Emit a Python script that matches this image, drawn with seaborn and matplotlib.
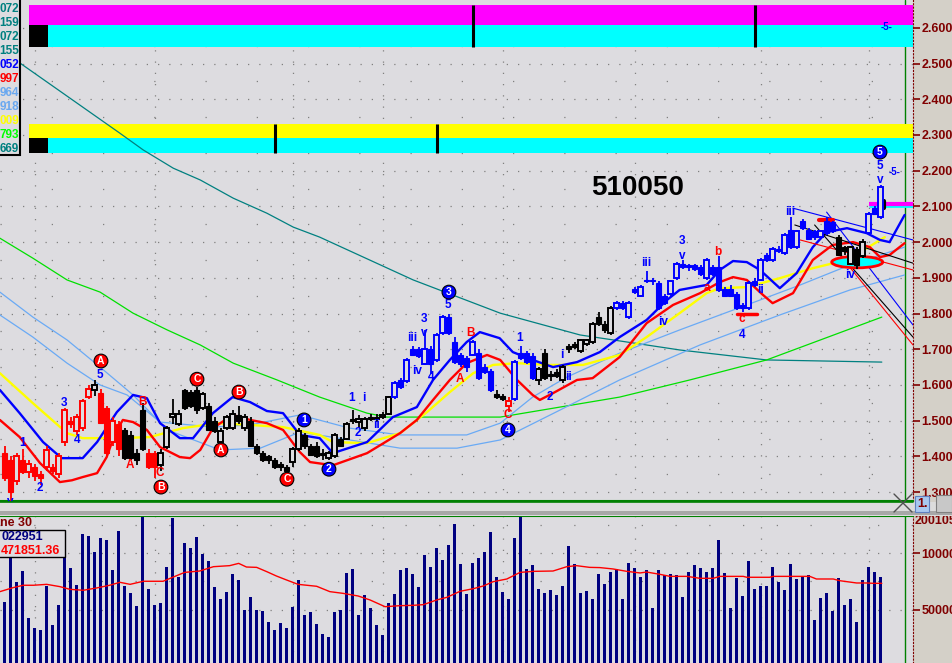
import numpy as np
import matplotlib
matplotlib.use('Agg')
import matplotlib.pyplot as plt
from matplotlib.patches import Rectangle, Ellipse
from matplotlib.lines import Line2D
import seaborn as sns

sns.set_style('white')
plt.rcParams['font.family'] = ['Liberation Sans', 'DejaVu Sans']
plt.rcParams['font.weight'] = 'bold'

# ── price bars (one per day) ─────────────────────────────────────
opens = [1.41, 1.39, 1.33, 1.39, 1.355, 1.37, 1.35, 1.37, 1.37, 1.35,
         1.44, 1.50, 1.47, 1.48, 1.567, 1.585, 1.578, 1.535, 1.44, 1.49,
         1.475, 1.46, 1.41, 1.53, 1.41, 1.41, 1.376, 1.425, 1.51, 1.49,
         1.585, 1.58, 1.585, 1.535, 1.54, 1.50, 1.44, 1.48, 1.48, 1.515,
         1.48, 1.50, 1.43, 1.41, 1.40, 1.39, 1.38, 1.37, 1.385, 1.42,
         1.46, 1.43, 1.43, 1.41, 1.395, 1.40, 1.45, 1.45, 1.505, 1.495,
         1.48, 1.51, 1.51, 1.51, 1.52, 1.565, 1.615, 1.61, 1.70, 1.70,
         1.66, 1.70, 1.67, 1.745, 1.79, 1.72, 1.685, 1.675, 1.685, 1.69,
         1.65, 1.64, 1.575, 1.57, 1.54, 1.56, 1.69, 1.69, 1.68, 1.615,
         1.69, 1.63, 1.635, 1.615, 1.71, 1.715, 1.695, 1.715, 1.72, 1.79,
         1.77, 1.745, 1.815, 1.83, 1.79, 1.87, 1.85, 1.895, 1.895, 1.885,
         1.85, 1.855, 1.90, 1.94, 1.935, 1.935, 1.93, 1.90, 1.93, 1.93,
         1.87, 1.87, 1.855, 1.825, 1.815, 1.89, 1.895, 1.965, 1.95, 1.98,
         1.97, 2.035, 1.985, 2.06, 2.035, 2.03, 2.015, 2.06, 2.055, 2.015,
         1.985, 1.94, 1.98, 1.96, 2.025, 2.095, 2.07]
highs = [1.43, 1.40, 1.41, 1.42, 1.39, 1.38, 1.36, 1.43, 1.38, 1.41,
         1.535, 1.51, 1.52, 1.56, 1.60, 1.615, 1.59, 1.54, 1.51, 1.50,
         1.48, 1.47, 1.42, 1.55, 1.42, 1.415, 1.42, 1.485, 1.56, 1.53,
         1.59, 1.585, 1.595, 1.58, 1.55, 1.51, 1.48, 1.515, 1.53, 1.54,
         1.52, 1.51, 1.435, 1.415, 1.405, 1.395, 1.385, 1.375, 1.425, 1.48,
         1.465, 1.435, 1.44, 1.42, 1.415, 1.465, 1.455, 1.495, 1.53, 1.515,
         1.51, 1.52, 1.52, 1.525, 1.57, 1.61, 1.62, 1.675, 1.71, 1.705,
         1.755, 1.71, 1.745, 1.795, 1.80, 1.735, 1.69, 1.68, 1.725, 1.70,
         1.66, 1.645, 1.585, 1.575, 1.565, 1.67, 1.71, 1.695, 1.69, 1.65,
         1.70, 1.64, 1.645, 1.655, 1.715, 1.72, 1.73, 1.73, 1.775, 1.805,
         1.78, 1.82, 1.835, 1.835, 1.835, 1.875, 1.88, 1.92, 1.90, 1.89,
         1.855, 1.895, 1.945, 1.95, 1.94, 1.94, 1.935, 1.955, 1.935, 1.96,
         1.875, 1.88, 1.86, 1.83, 1.89, 1.90, 1.955, 1.97, 1.985, 1.99,
         2.025, 2.07, 2.035, 2.065, 2.04, 2.035, 2.035, 2.07, 2.06, 2.02,
         1.99, 1.99, 1.985, 2.01, 2.085, 2.10, 2.16]
lows = [1.33, 1.27, 1.32, 1.35, 1.34, 1.33, 1.32, 1.36, 1.35, 1.34,
        1.43, 1.48, 1.46, 1.47, 1.56, 1.57, 1.49, 1.40, 1.43, 1.40,
        1.39, 1.39, 1.375, 1.415, 1.365, 1.34, 1.36, 1.42, 1.49, 1.485,
        1.53, 1.535, 1.52, 1.53, 1.47, 1.465, 1.425, 1.475, 1.475, 1.49,
        1.47, 1.425, 1.405, 1.385, 1.38, 1.365, 1.36, 1.355, 1.37, 1.415,
        1.42, 1.40, 1.395, 1.39, 1.39, 1.395, 1.425, 1.445, 1.49, 1.48,
        1.47, 1.50, 1.495, 1.505, 1.515, 1.56, 1.59, 1.605, 1.68, 1.675,
        1.655, 1.63, 1.665, 1.74, 1.74, 1.66, 1.65, 1.635, 1.68, 1.615,
        1.63, 1.58, 1.56, 1.555, 1.525, 1.555, 1.67, 1.66, 1.615, 1.60,
        1.615, 1.61, 1.62, 1.605, 1.69, 1.70, 1.69, 1.71, 1.715, 1.765,
        1.745, 1.74, 1.81, 1.81, 1.785, 1.855, 1.845, 1.885, 1.88, 1.81,
        1.825, 1.85, 1.895, 1.925, 1.92, 1.92, 1.905, 1.895, 1.905, 1.86,
        1.845, 1.845, 1.81, 1.805, 1.81, 1.875, 1.89, 1.945, 1.945, 1.97,
        1.965, 1.98, 1.98, 2.035, 2.005, 2.005, 2.01, 2.02, 2.025, 1.96,
        1.965, 1.935, 1.925, 1.955, 2.02, 2.075, 2.065]
closes = [1.34, 1.30, 1.40, 1.355, 1.38, 1.345, 1.34, 1.418, 1.36, 1.40,
          1.53, 1.49, 1.51, 1.555, 1.59, 1.60, 1.494, 1.41, 1.50, 1.42,
          1.395, 1.395, 1.39, 1.42, 1.37, 1.37, 1.41, 1.48, 1.52, 1.52,
          1.535, 1.54, 1.53, 1.575, 1.475, 1.47, 1.47, 1.51, 1.52, 1.50,
          1.51, 1.43, 1.41, 1.39, 1.39, 1.37, 1.37, 1.36, 1.42, 1.47,
          1.43, 1.405, 1.40, 1.405, 1.41, 1.46, 1.43, 1.49, 1.50, 1.505,
          1.505, 1.505, 1.505, 1.515, 1.565, 1.605, 1.595, 1.67, 1.685, 1.68,
          1.70, 1.66, 1.74, 1.79, 1.745, 1.665, 1.66, 1.65, 1.72, 1.62,
          1.635, 1.585, 1.565, 1.56, 1.555, 1.665, 1.675, 1.665, 1.62, 1.645,
          1.62, 1.625, 1.625, 1.65, 1.70, 1.705, 1.725, 1.725, 1.77, 1.77,
          1.755, 1.815, 1.83, 1.815, 1.83, 1.86, 1.875, 1.89, 1.89, 1.815,
          1.83, 1.89, 1.94, 1.93, 1.93, 1.925, 1.91, 1.95, 1.91, 1.865,
          1.85, 1.85, 1.815, 1.815, 1.885, 1.88, 1.95, 1.95, 1.98, 1.975,
          2.02, 1.985, 2.03, 2.04, 2.01, 2.015, 2.03, 2.025, 2.03, 1.965,
          1.975, 1.985, 1.935, 2.00, 2.08, 2.08, 2.155]
# trend colour of each bar: r = red, k = black, b = blue
bar_trend = ('r' * 15 + 'k' + 'r' * 4 + 'k' * 4 + 'r' * 2 + 'k' * 39 + 'b' * 17
             + 'k' * 2 + 'r' + 'b' * 4 + 'k' * 13 + 'b' * 37 + 'k' * 5 + 'b' * 3)

volume = [573, 1050, 748, 842, 433, 345, 325, 711, 368, 544,
          1020, 871, 719, 1167, 1149, 1009, 1132, 1114, 851, 1193,
          711, 652, 535, 1319, 684, 544, 561, 877, 1307, 789,
          1088, 1044, 1140, 991, 930, 702, 596, 661, 816, 763,
          500, 614, 500, 491, 395, 325, 386, 345, 526, 763,
          456, 482, 377, 289, 263, 482, 500, 825, 860, 456,
          632, 518, 368, 281, 561, 640, 851, 869, 816, 702,
          982, 877, 1044, 939, 1070, 1254, 904, 640, 912, 956,
          1009, 1184, 789, 658, 596, 1132, 1330, 860, 895, 684,
          649, 675, 632, 711, 1061, 904, 649, 667, 596, 816,
          728, 833, 860, 596, 912, 869, 789, 851, 518, 851,
          807, 816, 807, 614, 833, 895, 869, 833, 869, 1114,
          825, 518, 781, 623, 930, 684, 711, 711, 877, 746,
          675, 904, 772, 789, 807, 412, 605, 649, 491, 781,
          544, 596, 395, 763, 877, 833, 789]   # thousands
vol_ma_x = [-0.8, 1.4, 3.1, 4.8, 7, 9.2, 10.9, 13.1, 15.3, 17.5, 19.2, 20.9, 23.1,
            26.4, 28.1, 30, 32.5, 34.8, 37.5, 39, 40.3, 42, 43.7, 45.3, 47, 48.9,
            52, 54.2, 56.4, 58.9, 60.9, 63.4, 65.9, 68.1, 69.8, 72, 73.7, 75.9,
            78.1, 79.8, 81.4, 83.7, 85.9, 88.1, 91.4, 93.7, 95.3, 97.5, 99.2,
            101.4, 103.7, 105.9, 107, 109.2, 110.9, 113.7, 115.9, 118.1, 119.2,
            123.1, 123.7, 127.5, 128.1, 134.2, 135.3, 138.1, 139.2, 142, 143.7,
            144.8, 146.2]
vol_ma = [661, 696, 717, 717, 725, 705, 681, 673, 693, 717, 743, 725, 752,
          752, 789, 830, 842, 880, 889, 909, 877, 874, 836, 798, 763, 725,
          708, 661, 646, 623, 588, 529, 538, 541, 547, 588, 611, 664,
          687, 711, 748, 772, 830, 839, 842, 880, 889, 874, 872,
          860, 839, 825, 833, 813, 795, 795, 778, 778, 795,
          795, 787, 787, 795, 795, 772, 772, 757, 737, 737,
          734, 734]

# ── indicator lines (bar index, price) ───────────────────────────
blue_x = [-0.8, 2.5, 6.4, 9.5, 13, 15.4, 18.7, 21.4, 23.7, 25.9, 29.2, 31.4, 34.7,
          38, 40.9, 43.7, 46.4, 49.2, 52.5, 54.7, 60.4, 64.7, 68.7, 71.4, 74.2, 77,
          79.2, 82.5, 84.7, 88, 91.4, 95.4, 99.2, 102.5, 107, 110.4, 112.5, 117,
          119.2, 121.4, 123.7, 125.9, 129.2, 132, 134.7, 137, 140.4, 143.7, 145.9,
          147.5, 150]
blue_y = [1.586, 1.521, 1.440, 1.395, 1.395, 1.440, 1.524, 1.572, 1.563, 1.493,
          1.451, 1.451, 1.521, 1.566, 1.552, 1.527, 1.521, 1.460, 1.451, 1.409,
          1.440, 1.510, 1.538, 1.614, 1.670, 1.720, 1.748, 1.731, 1.692, 1.670,
          1.650, 1.664, 1.692, 1.734, 1.782, 1.838, 1.866, 1.880, 1.922, 1.947,
          1.944, 1.922, 1.871, 1.913, 1.986, 2.028, 2.039, 2.025, 2.006, 2.000,
          2.076]
red_x = [-0.8, 2.5, 5.9, 9.2, 11.2, 13, 15.4, 17, 18.4, 19.7, 21.4, 23.7, 25.9,
         29.2, 30.9, 32.6, 34.7, 38, 40.9, 43.7, 46.4, 49.2, 50.9, 54.7, 60.4,
         65.9, 68.7, 71.4, 74.2, 77, 80.4, 82.6, 85.4, 88, 89.2, 91.4, 95.4, 98,
         102.5, 107, 111.4, 115.9, 119.2, 121.4, 123.7, 126.4, 128, 131.4, 134.7,
         138, 141.4, 144.2, 145.9, 147.5, 150]
red_y = [1.502, 1.454, 1.381, 1.328, 1.333, 1.342, 1.353, 1.398, 1.465, 1.502,
         1.496, 1.474, 1.426, 1.398, 1.395, 1.418, 1.479, 1.516, 1.502, 1.493,
         1.474, 1.412, 1.384, 1.375, 1.409, 1.465, 1.502, 1.558, 1.614, 1.661,
         1.684, 1.670, 1.614, 1.572, 1.558, 1.577, 1.614, 1.619, 1.678, 1.773,
         1.824, 1.857, 1.888, 1.902, 1.894, 1.852, 1.829, 1.857, 1.950, 1.992,
         2.000, 1.986, 1.958, 1.964, 1.997]
yellow_x = [-0.8, 4.7, 10.4, 13, 18.7, 24.2, 29.7, 35.4, 40.9, 46.4, 52.5, 54.7,
            60.4, 65.9, 70.4, 74.2, 78.1, 81.4, 85.4, 90.9, 96.4, 102.5, 107,
            112.5, 117, 119.2, 123.7, 129.2, 134.7, 140.4, 143.7, 146.7]
yellow_y = [1.633, 1.549, 1.465, 1.451, 1.451, 1.454, 1.479, 1.493, 1.488, 1.482,
            1.460, 1.440, 1.437, 1.465, 1.524, 1.580, 1.633, 1.656, 1.661, 1.656,
            1.656, 1.684, 1.734, 1.801, 1.857, 1.871, 1.874, 1.899, 1.927, 1.950,
            1.983, 2.014]
teal_x = [-0.8, 2.5, 9.2, 19.2, 23.1, 28.1, 32.6, 38.1, 43.7, 48.1, 52.5, 68.1,
          82.6, 95.9, 112.5, 127.0, 146.2]
teal_y = [2.541, 2.502, 2.423, 2.305, 2.258, 2.207, 2.174, 2.123, 2.081, 2.042,
          2.014, 1.894, 1.801, 1.740, 1.698, 1.670, 1.664]
green_x = [-0.8, 4.7, 10.4, 15.9, 21.4, 27.1, 32.6, 38.1, 45.4, 52.5, 60.4, 63.7,
           82.6, 102.5, 114.2, 127, 146.2]
green_y = [2.011, 1.955, 1.894, 1.860, 1.801, 1.754, 1.712, 1.661, 1.614, 1.566,
           1.521, 1.510, 1.510, 1.566, 1.614, 1.670, 1.790]
ltblue_fast_x = [-0.8, 4.7, 10.4, 15.9, 20.4, 25.9, 34.7, 40.9, 49.2, 57.5, 65.9,
                 77, 82.6, 88, 93.7, 102.5, 112.5, 123.7, 132.6, 140.9, 150]
ltblue_fast_y = [1.796, 1.734, 1.661, 1.600, 1.572, 1.496, 1.482, 1.488, 1.516,
                 1.479, 1.460, 1.460, 1.493, 1.566, 1.622, 1.689, 1.754, 1.824,
                 1.880, 1.936, 1.986]
ltblue_slow_x = [-0.8, 4.7, 10.4, 15.9, 21.4, 27.1, 35.9, 42.6, 49.2, 57.5, 65.9,
                 75.4, 82.6, 92.6, 102.5, 115.9, 129.2, 140.9, 150]
ltblue_slow_y = [1.860, 1.790, 1.726, 1.650, 1.572, 1.474, 1.418, 1.423, 1.468,
                 1.446, 1.423, 1.423, 1.446, 1.530, 1.614, 1.712, 1.796, 1.866, 1.908]
# channel lines at the right: (x0, x1, y0, y1, colour)
channels = [(131.4, 151.4, 2.095, 2.006, '#0000ff'),
            (131.7, 151.4, 2.048, 1.941, '#000000'),
            (132.6, 151.4, 2.006, 1.922, '#ff0000'),
            (137.0, 151.4, 2.084, 1.768, '#0000ff'),
            (135.0, 151.4, 2.048, 1.734, '#000000'),
            (139.2, 151.4, 1.964, 1.712, '#ff0000')]

# ── wave labels (text, bar index, price) ─────────────────────────
blue_labels = [('1', 2.9, 1.437), ('2', 5.9, 1.311), ('3', 9.9, 1.549), ('4', 12.05, 1.446),
               ('5', 15.9, 1.628), ('v', 0.9, 1.272), ('1', 57.9, 1.563), ('i', 59.9, 1.563),
               ('2', 58.9, 1.465), ('ii', 62.05, 1.488), ('iii', 67.9, 1.731), ('3', 69.9, 1.786),
               ('v', 69.9, 1.746), ('iv', 68.7, 1.639), ('4', 71.05, 1.622), ('5', 73.9, 1.824),
               ('1', 85.9, 1.731), ('i', 92.9, 1.684), ('ii', 93.9, 1.622), ('2', 90.9, 1.566),
               ('iii', 106.9, 1.941), ('iv', 109.7, 1.776), ('3', 112.9, 2.004), ('v', 112.9, 1.962),
               ('4', 122.9, 1.740), ('i', 125.4, 1.927), ('ii', 125.9, 1.866), ('iii', 130.9, 2.084),
               ('iv', 140.9, 1.908), ('5', 145.9, 2.214), ('v', 145.9, 2.174)]
red_labels = [('A', 20.9, 1.376), ('B', 23.05, 1.552), ('C', 25.9, 1.353),
              ('A', 75.9, 1.616), ('B', 77.7, 1.745), ('C', 83.9, 1.516),
              ('a', 117.05, 1.871), ('b', 118.9, 1.972), ('c', 122.9, 1.784)]
red_circles = [('A', 16.05, 1.667), ('C', 32.05, 1.616), ('B', 39.05, 1.580),
               ('A', 36.05, 1.418), ('B', 26.05, 1.314), ('C', 47.05, 1.336)]
blue_circles = [('1', 49.9, 1.502), ('2', 54.05, 1.364), ('3', 74.05, 1.860),
                ('4', 83.9, 1.474), ('5', 145.9, 2.252)]

# signal bands at top (price ranges) and their event bars
band1_pink = (2.608, 2.664)
band1_cyan = (2.547, 2.608)
band1_events = [78, 125]
band2_yellow = (2.291, 2.331)
band2_cyan = (2.249, 2.291)
band2_events = [45, 72]

side_values = ['072', '159', '072', '155', '052', '997', '964', '918', '009', '793', '669']
side_colors = ['#008080', '#008080', '#008080', '#008080', '#0000ff', '#ff0000',
               '#6aa8f0', '#6aa8f0', '#ffff00', '#00ff00', '#008080']

BG = '#dddce0'
AXC = '#800000'
COL = {'r': '#ff0000', 'k': '#000000', 'b': '#0000ff'}
XL = (-0.78, 151.4)

W, H = 952, 663
fig = plt.figure(figsize=(W / 100, H / 100), dpi=100, facecolor='#d4d0c8')
ax = fig.add_axes([0, (H - 501) / H, 913 / W, 501 / H], facecolor=BG)
axv = fig.add_axes([0, 0, 913 / W, (H - 516) / H], facecolor=BG)

# ── main panel ───────────────────────────────────────────────────
ax.set_xlim(*XL)
ax.set_ylim(1.275, 2.678)
yt = np.round(np.arange(1.3, 2.61, 0.1), 1)
for p in yt:
    ax.axhline(p, color='#808080', lw=0.9, ls=(0, (1, 8)), zorder=0.3)
    ax.axhline(p + 0.05, color='#808080', lw=0.9, ls=(0, (1, 40)), zorder=0.3)
vgrid = [5, 25, 48, 63, 83, 105, 126, 144]
for g in vgrid:
    ax.axvline(g, color='#808080', lw=0.9, ls=(0, (1, 8)), zorder=0.3)
    axv.axvline(g, color='#808080', lw=0.9, ls=(0, (1, 8)), zorder=0.3)
ax.axvline(150, color='#008000', lw=1, zorder=0.4)
axv.axvline(150, color='#008000', lw=1, zorder=0.4)

# top signal bands
ax.fill_between([4.05, XL[1]], *band1_pink, color='#ff00ff', lw=0, zorder=1)
ax.fill_between([4.05, XL[1]], *band1_cyan, color='#00ffff', lw=0, zorder=1)
ax.fill_between([4.05, 7.2], *band1_cyan, color='black', lw=0, zorder=1.1)
ax.fill_between([4.05, XL[1]], *band2_yellow, color='#ffff00', lw=0, zorder=1)
ax.fill_between([4.05, XL[1]], *band2_cyan, color='#00ffff', lw=0, zorder=1)
ax.fill_between([4.05, 7.2], *band2_cyan, color='black', lw=0, zorder=1.1)
ax.vlines(band1_events, band1_cyan[0], band1_pink[1], color='black', lw=2.2, zorder=1.2)
ax.vlines(band2_events, band2_cyan[0], band2_yellow[1], color='black', lw=2.2, zorder=1.2)
ax.text(147.05, 2.602, '-5-', color='#0000ff', fontsize=7, ha='center', va='center', zorder=2)

# moving averages / envelopes
thin = [(teal_x, teal_y, '#008080'), (green_x, green_y, '#00e000'),
        (ltblue_fast_x, ltblue_fast_y, '#6aaaf5'), (ltblue_slow_x, ltblue_slow_y, '#6aaaf5')]
for xs, ys, c in thin:
    sns.lineplot(x=xs, y=ys, ax=ax, color=c, lw=0.9, zorder=2)
for xs, ys, c in [(yellow_x, yellow_y, '#ffff00'), (red_x, red_y, '#ff0000'),
                  (blue_x, blue_y, '#0000ff')]:
    sns.lineplot(x=xs, y=ys, ax=ax, color=c, lw=1.7, zorder=3)
for x0, x1, y0, y1, c in channels:
    ax.plot([x0, x1], [y0, y1], color=c, lw=0.8, zorder=3)

# ellipse marker & side markers
ax.add_patch(Ellipse((142.1, 1.944), 8.5, 0.032, fc='#00ffff', ec='#ff0000', lw=2, zorder=3.5))
ax.plot([144, XL[1]], [2.108, 2.108], color='#ff00ff', lw=3, zorder=3.6, solid_capstyle='butt')
ax.plot([144, XL[1]], [2.100, 2.100], color='#00ffff', lw=2, zorder=3.5, solid_capstyle='butt')
ax.plot([146.5, 146.5], [2.096, 2.116], color='black', lw=3, zorder=3.7)
ax.plot([122, 125.4], [1.798, 1.798], color='#ff0000', lw=2.5, zorder=3.6)
ax.plot([135.8, 138], [2.063, 2.063], color='#ff0000', lw=3, zorder=3.6)

# candles
idx = np.arange(len(opens))
o, h, l, c = map(np.array, (opens, highs, lows, closes))
for t, col in COL.items():
    m = np.array([ch == t for ch in bar_trend])
    ax.vlines(idx[m], l[m], h[m], color=col, lw=1.3, zorder=4)
    up = m & (c >= o)
    dn = m & (c < o)
    ax.bar(idx[up], np.maximum(c[up] - o[up], 0.004), bottom=o[up], width=0.75,
           facecolor=BG, edgecolor=col, lw=1.4, zorder=4.1)
    ax.bar(idx[dn], np.maximum(o[dn] - c[dn], 0.004), bottom=c[dn], width=0.8,
           facecolor=col, edgecolor=col, lw=0.8, zorder=4.1)

# wave labels
for s, xv, yv in blue_labels:
    ax.text(xv, yv, s, color='#0000ff', fontsize=8.5, ha='center', va='center', zorder=5)
for s, xv, yv in red_labels:
    ax.text(xv, yv, s, color='#ff0000', fontsize=8.5, ha='center', va='center', zorder=5)
ax.text(147.4, 2.196, '-5-', color='#0000ff', fontsize=7, ha='left', va='center', zorder=5)
for s, xv, yv in red_circles:
    ax.text(xv, yv, s, color='white', fontsize=7.5, ha='center', va='center', zorder=5,
            bbox=dict(boxstyle='circle,pad=0.18', fc='#ff0000', ec='black', lw=0.8))
for s, xv, yv in blue_circles:
    ax.text(xv, yv, s, color='white', fontsize=7.5, ha='center', va='center', zorder=5,
            bbox=dict(boxstyle='circle,pad=0.18', fc='#0000ff', ec='black', lw=0.8))

ax.text(638 / 913, 1 - 188 / 501, '510050', transform=ax.transAxes, fontsize=20,
        ha='center', va='center', color='black', zorder=6)

# left value box
ax.add_patch(Rectangle((-0.01, 1 - 155 / 501), 20 / 913 + 0.01, 155 / 501 + 0.01,
                       transform=ax.transAxes, fc=BG, ec='black', lw=1.5, zorder=7))
for k, (s, cl) in enumerate(zip(side_values, side_colors)):
    ax.text(19 / 913, 1 - (9 + 14 * k) / 501, s, transform=ax.transAxes, color=cl,
            fontsize=8.5, ha='right', va='center', zorder=8)

# axis styling
ax.yaxis.tick_right()
ax.set_yticks(yt)
ax.set_yticklabels([f'{v:.3f}' for v in yt])
ax.set_xticks([])
ax.tick_params(axis='y', colors=AXC, labelcolor=AXC, length=5, width=1.2,
               labelsize=9, pad=1)
for sp in ['top', 'left']:
    ax.spines[sp].set_visible(False)
ax.spines['bottom'].set_color('#008000')
ax.spines['bottom'].set_linewidth(1.5)
ax.spines['right'].set_color(AXC)
ax.spines['right'].set_linestyle((0, (1, 2)))
ax.set_xlabel('')
ax.set_ylabel('')

# ── volume panel ─────────────────────────────────────────────────
vol_abs = np.array(volume) * 1000
sns.barplot(x=idx, y=vol_abs, ax=axv, native_scale=True, color='#000080',
            saturation=1, width=0.4, linewidth=0, edgecolor='#000080',
            antialiased=False, zorder=2)
sns.lineplot(x=vol_ma_x, y=np.array(vol_ma) * 1000, ax=axv, color='#ff0000', lw=1, zorder=3)
axv.set_xlim(*XL)
axv.set_ylim(35000, 1324600)
for v in [500000, 1000000]:
    axv.axhline(v, color='#808080', lw=0.9, ls=(0, (1, 8)), zorder=0.3)
for v in [750000, 1250000]:
    axv.axhline(v, color='#808080', lw=0.9, ls=(0, (1, 26)), zorder=0.3)
axv.yaxis.tick_right()
axv.set_yticks([500000, 1000000])
axv.set_yticklabels(['500000', '1000000'])
axv.set_xticks([])
axv.tick_params(axis='y', colors=AXC, labelcolor=AXC, length=5, width=1.2,
                labelsize=9, pad=1)
for sp in ['bottom', 'left']:
    axv.spines[sp].set_visible(False)
axv.spines['top'].set_color('#008000')
axv.spines['top'].set_linewidth(1.5)
axv.spines['right'].set_color(AXC)
axv.spines['right'].set_linestyle((0, (1, 2)))
axv.set_xlabel('')
axv.set_ylabel('')

def vy(py):
    return 1 - (py - 516) / 147

axv.text(0, vy(523), 'ne 30', transform=axv.transAxes, color=AXC, fontsize=9,
         ha='left', va='center', zorder=6)
axv.add_patch(Rectangle((-0.01, vy(557)), 65 / 913 + 0.01, vy(530) - vy(557),
                        transform=axv.transAxes, fc=BG, ec='black', lw=1, zorder=6))
axv.text(1 / 913, vy(537), '022951', transform=axv.transAxes, color='#000080',
         fontsize=9, ha='left', va='center', zorder=7)
axv.text(1 / 913, vy(551), '471851.36', transform=axv.transAxes, color='#ff0000',
         fontsize=9, ha='left', va='center', zorder=7)

# separator strip between panels
fig.add_artist(Rectangle((0, 1 - 516 / H), 1, 14 / H, transform=fig.transFigure,
                         fc='#dcdcdc', ec='none', zorder=10))
fig.add_artist(Rectangle((0, 1 - 515 / H), 1, 4 / H, transform=fig.transFigure,
                         fc='#a8a8a8', ec='none', zorder=10))
fig.add_artist(Line2D([0, 913 / W], [1 - 501.5 / H] * 2, color='#008000', lw=1.2, zorder=11))
fig.text(915 / W, 1 - 521 / H, '20010530', color=AXC, fontsize=9, ha='left', va='center',
         zorder=9)
# corner tools
fig.add_artist(Line2D([894 / W, 912 / W], [1 - 494 / H, 1 - 512 / H], color='#505050', lw=1, zorder=12))
fig.add_artist(Line2D([894 / W, 912 / W], [1 - 512 / H, 1 - 494 / H], color='#505050', lw=1, zorder=12))
fig.text(917 / W, 1 - 504 / H, '1.', color=AXC, fontsize=9, ha='left', va='center', zorder=12,
         bbox=dict(boxstyle='square,pad=0.15', fc='#a8c8f0', ec='#6080c0', lw=0.8))
fig.add_artist(Rectangle((936 / W, 1 - 512 / H), 16 / W, 17 / H, transform=fig.transFigure,
                         fc='#c8c8c8', ec='#808080', lw=0.8, zorder=12))

fig.savefig('out.png', dpi=100, facecolor=fig.get_facecolor())
